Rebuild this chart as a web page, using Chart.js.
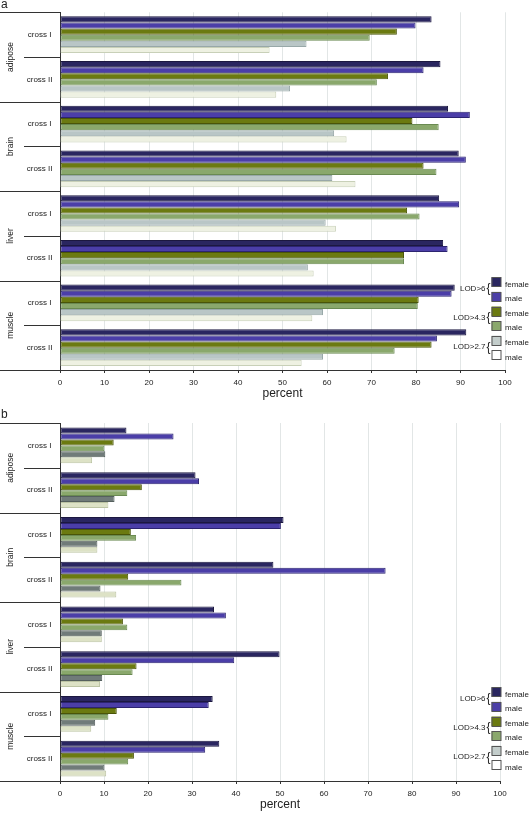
<!DOCTYPE html>
<html>
<head>
<meta charset="utf-8">
<script src="https://cdn.jsdelivr.net/npm/chart.js@4.4.0/dist/chart.umd.min.js"></script>
<style>
    html, body { margin: 0; padding: 0; background: #fff; }
    #wrap { position: relative; width: 530px; height: 814px; }
    canvas { position: absolute; left: 0; }
    #chartA { top: 0; }
    #chartB { top: 400px; }
</style>
</head>
<body>
<div id="wrap">
    <canvas id="chartA" width="530" height="400"></canvas>
    <canvas id="chartB" width="530" height="414"></canvas>
</div>
<script>
// categories, listed top-down as in the figure
const categories = ['cross I', 'cross II', 'cross I', 'cross II', 'cross I', 'cross II', 'cross I', 'cross II'];
const tissues = ['adipose', 'brain', 'liver', 'muscle'];
const seriesLabels = ['LOD>6 female', 'LOD>6 male', 'LOD>4.3 female', 'LOD>4.3 male', 'LOD>2.7 female', 'LOD>2.7 male'];
const lodLabels = ['LOD>6', 'LOD>4.3', 'LOD>2.7'];
const sexLabels = ['female', 'male'];
const percentTicks = [0, 10, 20, 30, 40, 50, 60, 70, 80, 90, 100];

// panel a
const aLod6Female = [83.5, 85.5, 87.2, 89.6, 85.2, 86.1, 88.7, 91.3];
const aLod6Male = [79.9, 81.7, 92.1, 91.2, 89.7, 87.1, 88.0, 84.7];
const aLod43Female = [75.7, 73.7, 79.2, 81.7, 78.0, 77.3, 80.6, 83.5];
const aLod43Male = [69.6, 71.2, 85.1, 84.6, 80.8, 77.3, 80.4, 75.2];
const aLod27Female = [55.4, 51.7, 61.6, 61.2, 59.7, 55.7, 59.1, 59.1];
const aLod27Male = [47.1, 48.6, 64.4, 66.4, 62.0, 57.0, 56.7, 54.3];

// panel b
const bLod6Female = [15.1, 30.8, 50.8, 48.5, 35.0, 49.9, 34.7, 36.2];
const bLod6Male = [25.8, 31.6, 50.2, 74.0, 37.7, 39.6, 33.8, 33.0];
const bLod43Female = [12.2, 18.6, 16.1, 15.5, 14.3, 17.4, 12.9, 16.8];
const bLod43Male = [10.1, 15.3, 17.3, 27.6, 15.3, 16.5, 11.0, 15.5];
const bLod27Female = [10.3, 12.4, 8.5, 9.2, 9.5, 9.6, 8.0, 10.1];
const bLod27Male = [7.3, 11.0, 8.5, 12.8, 9.5, 9.1, 7.1, 10.5];

const colorsA = ['#2a2660', '#4b3ea8', '#6b7a10', '#8aa86c', '#b9c6c6', '#eef1e2'];
const colorsB = ['#2a2660', '#4b3ea8', '#6b7a10', '#8aa86c', '#707b79', '#dde2c6'];
const bordersA = ['#1c1840', '#2c2470', '#4a5508', '#6a8a52', '#98a8a8', '#c8d0b8'];
const bordersB = ['#1c1840', '#2c2470', '#4a5508', '#6a8a52', '#55605e', '#bcc4a4'];
const legendColors = ['#2a2660', '#4b3ea8', '#6b7a10', '#8aa86c', '#c3cdcb', '#ffffff'];

const FONT = "'Liberation Sans', Arial, sans-serif";
const TEXT = '#222';

// separators, tissue names, panel letter and the legend
const decorPlugin = {
    id: 'decor',
    afterDraw(chart, args, opts) {
        const c = chart.ctx;
        const area = chart.chartArea;
        const y = chart.scales.y;
        c.save();
        c.strokeStyle = '#333';
        c.lineWidth = 1;

        function hline(x0, x1, yy) {
            c.beginPath();
            c.moveTo(x0, Math.round(yy) + 0.5);
            c.lineTo(x1, Math.round(yy) + 0.5);
            c.stroke();
        }

        hline(0, area.left, area.top);
        hline(0, area.left, area.bottom);
        for (let i = 0; i < categories.length - 1; i++) {
            const mid = (y.getPixelForValue(i) + y.getPixelForValue(i + 1)) / 2;
            hline(i % 2 ? 0 : 24, area.left, mid);
        }

        c.fillStyle = TEXT;
        c.font = '8.5px ' + FONT;
        c.textAlign = 'center';
        c.textBaseline = 'middle';
        tissues.forEach((t, k) => {
            const mid = (y.getPixelForValue(2 * k) + y.getPixelForValue(2 * k + 1)) / 2;
            c.save();
            c.translate(11, mid);
            c.rotate(-Math.PI / 2);
            c.fillText(t, 0, 0);
            c.restore();
        });

        c.font = '12px ' + FONT;
        c.textAlign = 'left';
        c.textBaseline = 'alphabetic';
        c.fillText(opts.letter, 1, opts.letterY);

        // legend
        const lx = 491.5;
        const rowH = 14.6;
        const top0 = area.bottom - opts.legendOffset;
        for (let i = 0; i < 6; i++) {
            const ty = top0 + i * rowH;
            c.fillStyle = legendColors[i];
            c.fillRect(lx, ty, 9.5, 9.5);
            c.strokeStyle = '#555';
            c.strokeRect(lx + 0.5, Math.round(ty) + 0.5, 9, 9);
            c.fillStyle = TEXT;
            c.font = '8px ' + FONT;
            c.textAlign = 'left';
            c.textBaseline = 'middle';
            c.fillText(sexLabels[i % 2], lx + 13.5, ty + 7);
        }
        lodLabels.forEach((l, k) => {
            const cy = top0 + (2 * k) * rowH + 11.5;
            c.fillStyle = TEXT;
            c.font = '8px ' + FONT;
            c.textAlign = 'right';
            c.textBaseline = 'middle';
            c.fillText(l, lx - 6, cy);
            c.font = '12px ' + FONT;
            c.textAlign = 'center';
            c.fillText('{', lx - 3, cy);
        });
        c.restore();
    }
};

function makeChart(id, values, colors, borders, cfg) {
    const datasets = values.map((v, i) => ({
        label: seriesLabels[i],
        data: v,
        backgroundColor: colors[i],
        borderColor: borders[i],
        borderWidth: 1,
        borderSkipped: false
    }));

    return new Chart(document.getElementById(id), {
        type: 'bar',
        data: { labels: categories, datasets: datasets },
        plugins: [decorPlugin],
        options: {
            indexAxis: 'y',
            responsive: false,
            animation: false,
            layout: { padding: { top: cfg.top, right: cfg.right, left: 0, bottom: 0 } },
            datasets: { bar: { categoryPercentage: cfg.catPct, barPercentage: 1 } },
            plugins: {
                legend: { display: false },
                tooltip: { enabled: false },
                decor: { letter: cfg.letter, letterY: cfg.letterY, legendOffset: cfg.legendOffset }
            },
            scales: {
                x: {
                    min: 0,
                    max: 100,
                    afterBuildTicks: axis => { axis.ticks = percentTicks.map(v => ({ value: v })); },
                    ticks: { font: { family: FONT, size: 8 }, color: TEXT, padding: cfg.tickPad, maxRotation: 0 },
                    grid: {
                        color: ctx => (ctx.tick && ctx.tick.value === 0) ? 'rgba(0,0,0,0)' : '#e2e6e6',
                        tickColor: '#333',
                        tickLength: 3
                    },
                    border: { color: '#333' },
                    title: {
                        display: true,
                        text: 'percent',
                        color: TEXT,
                        font: { family: FONT, size: 12, lineHeight: 1 },
                        padding: { top: 0, bottom: cfg.titlePad }
                    },
                    afterFit: s => { s.height = cfg.axisH; }
                },
                y: {
                    ticks: { font: { family: FONT, size: 8 }, color: TEXT, crossAlign: 'center', padding: 7.5 },
                    grid: { display: false, drawTicks: false },
                    border: { color: '#333' },
                    afterFit: s => { s.width = 60; }
                }
            }
        }
    });
}

makeChart('chartA',
    [aLod6Female, aLod6Male, aLod43Female, aLod43Male, aLod27Female, aLod27Male],
    colorsA, bordersA,
    { top: 12, right: 25, axisH: 30, tickPad: 4.5, titlePad: 0, catPct: 0.82, letter: 'a', letterY: 8, legendOffset: 92.7 });

makeChart('chartB',
    [bLod6Female, bLod6Male, bLod43Female, bLod43Male, bLod27Female, bLod27Male],
    colorsB, bordersB,
    { top: 23, right: 30, axisH: 33, tickPad: 4.5, titlePad: 3, catPct: 0.8, letter: 'b', letterY: 18, legendOffset: 93.7 });
</script>
</body>
</html>
